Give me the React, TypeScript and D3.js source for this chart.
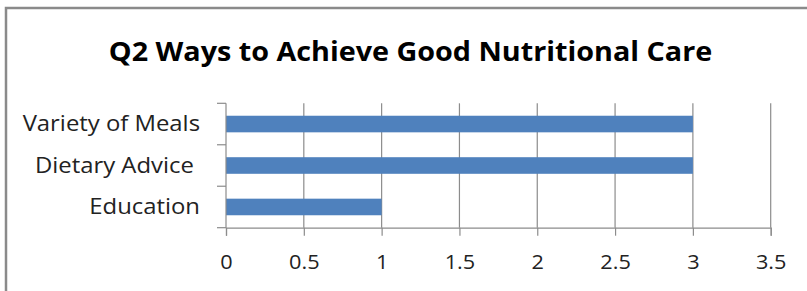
import React, { useEffect, useRef } from "react";
import * as d3 from "d3";

const categories = ["Variety of Meals", "Dietary Advice ", "Education"];
const values = [3, 3, 1];
const xTicks = [0, 0.5, 1, 1.5, 2, 2.5, 3, 3.5];
const title = "Q2 Ways to Achieve Good Nutritional Care";

const width = 807;
const height = 291;
const font = "'Open Sans', sans-serif";
// source text is a bit wider than Open Sans at the same cap height
const stretch = "scale(1.085,1)";

const App = () => {
  const ref: any = useRef();

  useEffect(() => {
    const svg = d3.select(ref.current);
    svg.selectAll("*").remove();

    const margin = { top: 103.3, right: 36.3, bottom: 63.3, left: 226 };

    // chart frame (only top and left edges show in the crop)
    svg
      .append("path")
      .attr("d", `M6,${height} V8 H${width}`)
      .attr("fill", "none")
      .attr("stroke", "#8a8a8a")
      .attr("stroke-width", 2.5);

    svg
      .append("text")
      .attr("transform", `translate(410.5,61) ${stretch}`)
      .attr("text-anchor", "middle")
      .style("font-family", font)
      .style("font-weight", "bold")
      .style("font-size", "26.5px")
      .attr("fill", "#000")
      .text(title);

    const x = d3
      .scaleLinear()
      .domain([0, 3.5])
      .range([margin.left, width - margin.right]);

    const y = d3
      .scaleBand()
      .domain(categories)
      .range([margin.top, height - margin.bottom])
      .paddingInner(0.6)
      .paddingOuter(0.3);

    const y0 = margin.top;
    const y1 = height - margin.bottom;

    // gridlines
    svg
      .append("g")
      .selectAll("line")
      .data(xTicks.slice(1))
      .join("line")
      .attr("x1", (d) => x(d))
      .attr("x2", (d) => x(d))
      .attr("y1", y0)
      .attr("y2", y1)
      .attr("stroke", "#8c8c8c")
      .attr("stroke-width", 1.2);

    // bars
    svg
      .append("g")
      .selectAll("rect")
      .data(categories)
      .join("rect")
      .attr("x", x(0))
      .attr("y", (d) => y(d) as number)
      .attr("width", (d, i) => x(values[i]) - x(0))
      .attr("height", y.bandwidth())
      .attr("fill", "#4f81bd");

    // x axis
    const xAxis = d3
      .axisBottom(x)
      .tickValues(xTicks)
      .tickSize(8)
      .tickPadding(19.6)
      .tickFormat((d: any) => String(d));

    const xg = svg
      .append("g")
      .attr("transform", `translate(0,${y1})`)
      .call(xAxis);
    xg.select(".domain").attr("stroke", "#8c8c8c").attr("stroke-width", 1.2);
    xg.selectAll(".tick line").attr("stroke", "#8c8c8c").attr("stroke-width", 1.2);
    xg.selectAll(".tick text")
      .attr("transform", stretch)
      .style("font-family", font)
      .style("font-size", "20px")
      .attr("fill", "#222");

    // y axis line and category boundary ticks
    const step = y.step();
    const boundaries = d3.range(categories.length + 1).map((i) => y0 + i * step);
    const yg = svg.append("g");
    yg.append("line")
      .attr("x1", x(0))
      .attr("x2", x(0))
      .attr("y1", y0)
      .attr("y2", y1)
      .attr("stroke", "#8c8c8c")
      .attr("stroke-width", 1.2);
    yg.selectAll("line.tick")
      .data(boundaries)
      .join("line")
      .attr("class", "tick")
      .attr("x1", x(0) - 9)
      .attr("x2", x(0))
      .attr("y1", (d) => d)
      .attr("y2", (d) => d)
      .attr("stroke", "#8c8c8c")
      .attr("stroke-width", 1.2);

    yg.selectAll("text")
      .data(categories)
      .join("text")
      .attr(
        "transform",
        (d) => `translate(${x(0) - 26},${(y(d) as number) + y.bandwidth() / 2}) ${stretch}`
      )
      .attr("dy", "0.32em")
      .attr("text-anchor", "end")
      .style("white-space", "pre")
      .style("font-family", font)
      .style("font-size", "22px")
      .attr("fill", "#222")
      .text((d) => d);
  }, []);

  return (
    <svg
      ref={ref}
      width={width}
      height={height}
      style={{ position: "absolute", left: 0, top: 0, background: "#fff" }}
    ></svg>
  );
};

export default App;
